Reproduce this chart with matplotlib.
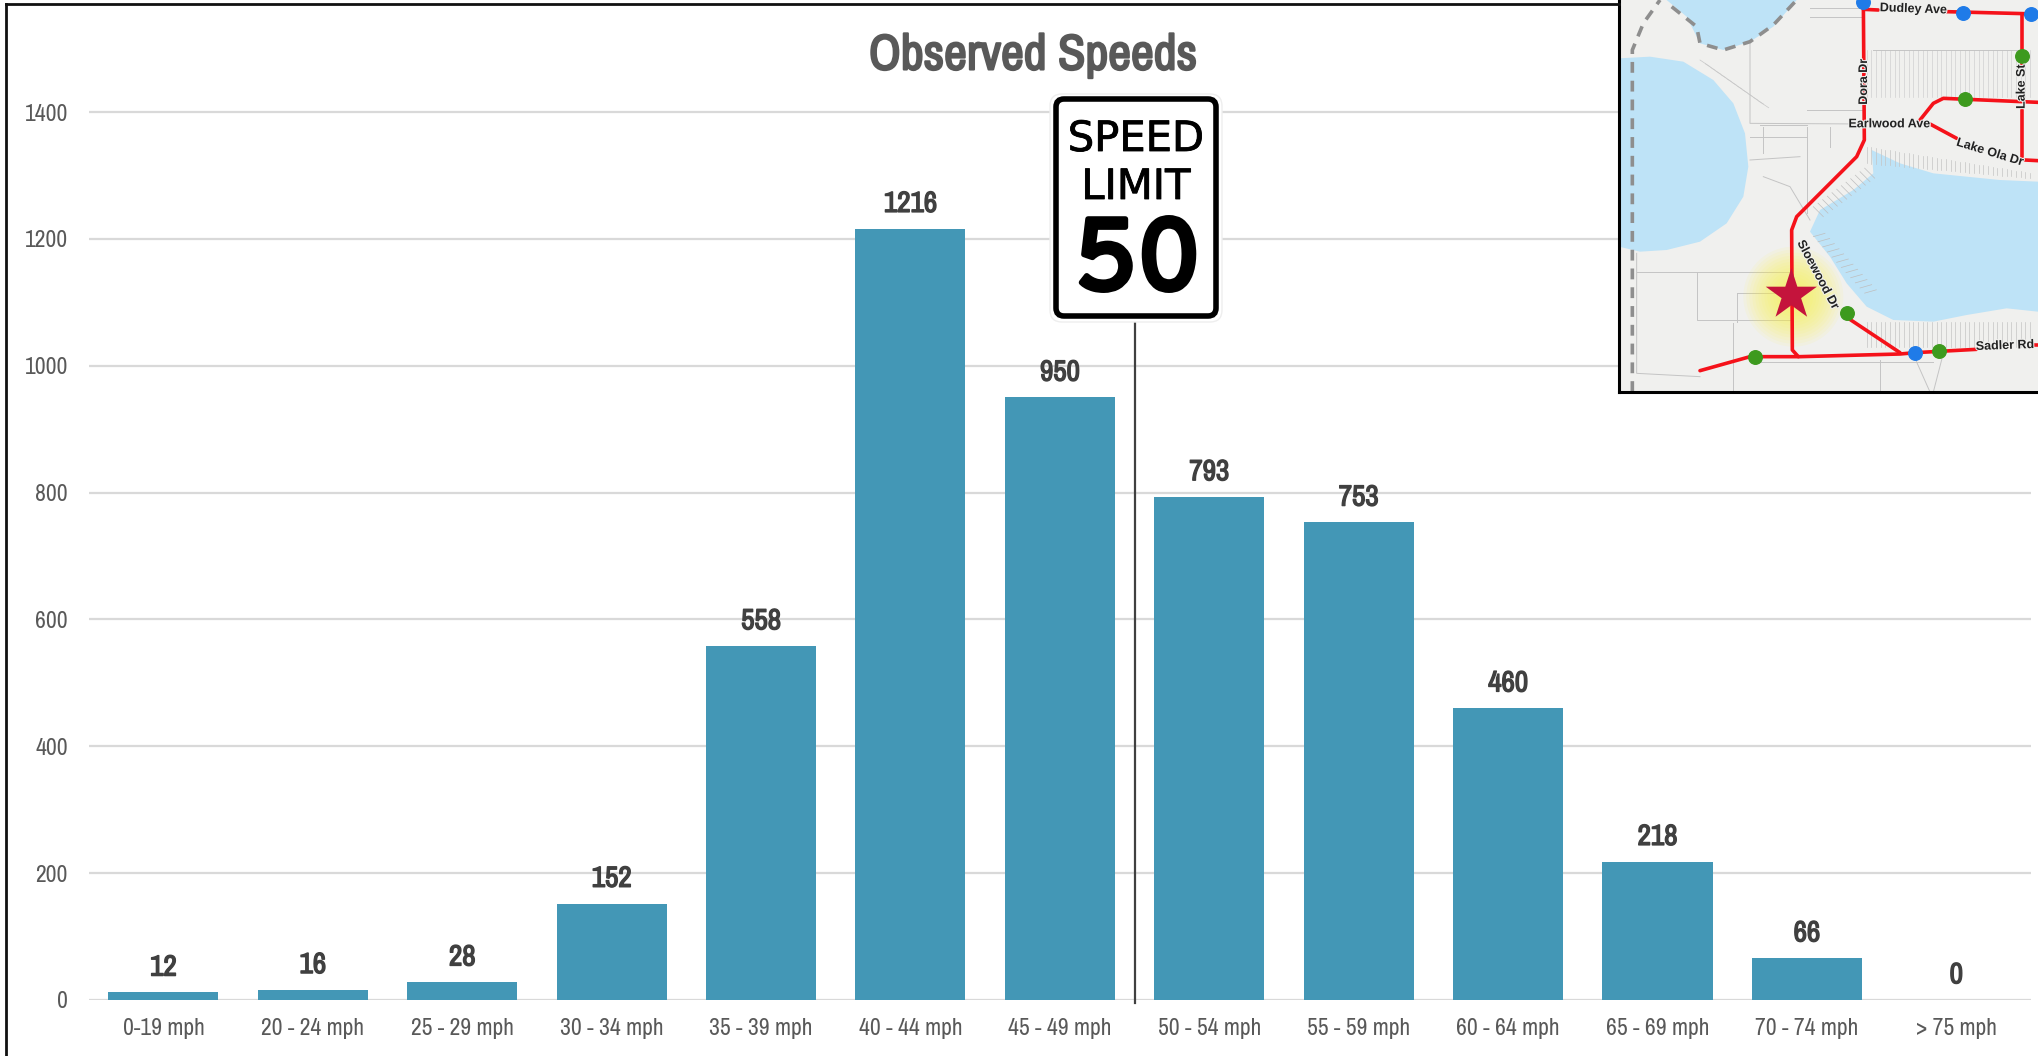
import matplotlib
matplotlib.use('Agg')
import matplotlib.pyplot as plt
from matplotlib.lines import Line2D
from matplotlib.patches import Circle, FancyBboxPatch, Polygon
import matplotlib.patheffects as pe
import numpy as np

# Datos del grafico
categories = ['0-19 mph', '20 - 24 mph', '25 - 29 mph', '30 - 34 mph', '35 - 39 mph',
              '40 - 44 mph', '45 - 49 mph', '50 - 54 mph', '55 - 59 mph', '60 - 64 mph',
              '65 - 69 mph', '70 - 74 mph', '> 75 mph']
counts = [12, 16, 28, 152, 558, 1216, 950, 793, 753, 460, 218, 66, 0]
y_ticks = [0, 200, 400, 600, 800, 1000, 1200, 1400]

# Mapa de ubicacion
west_lake = [(57, 175), (150, 170), (250, 185), (340, 240), (400, 310), (435, 400), (445, 500),
             (430, 590), (380, 670), (300, 725), (200, 750), (120, 755), (57, 740)]
north_lake = [(200, 0), (260, 50), (300, 130), (370, 150), (450, 125), (520, 80), (590, 0)]
east_lake = [(815, 450), (900, 490), (1000, 520), (1200, 540), (1314, 545), (1314, 935), (1220, 925),
             (1100, 945), (1000, 965), (880, 960), (800, 920), (740, 850), (690, 770), (630, 695),
             (660, 630), (760, 570), (820, 520)]
boundaries = [[(97, 1176), (97, 150), (130, 70), (180, 0)],
              [(215, 20), (290, 80), (300, 130), (370, 150), (450, 125), (520, 75), (590, 0)]]
roads = [[(790, 0), (793, 420), (770, 470), (590, 650), (575, 690), (577, 1050), (595, 1070)],
         [(300, 1112), (450, 1070), (600, 1070), (900, 1062), (945, 1058), (1130, 1048)],
         [(1300, 1035), (1314, 1035)],
         [(745, 955), (900, 1058)],
         [(790, 28), (835, 30)],
         [(1040, 35), (1314, 42)],
         [(1265, 42), (1265, 200)],
         [(1265, 330), (1265, 470)],
         [(960, 360), (1000, 310), (1030, 295), (1314, 307)],
         [(990, 372), (1070, 415)],
         [(1275, 480), (1314, 482)]]
parcels = [[(450, 130), (450, 370), (790, 372)], [(490, 530), (570, 560), (630, 660)],
           [(290, 815), (575, 815)], [(290, 815), (290, 960), (575, 960)], [(410, 880), (410, 965)],
           [(410, 880), (575, 880)], [(110, 760), (110, 1120), (300, 1130)], [(480, 1085), (1000, 1085)],
           [(945, 1075), (990, 1176)], [(1030, 1060), (1000, 1176)], [(630, 25), (790, 25)],
           [(630, 50), (790, 50)], [(820, 150), (1260, 150)], [(480, 375), (620, 375)],
           [(450, 480), (600, 470)], [(450, 410), (620, 410)], [(110, 815), (290, 815)],
           [(400, 970), (400, 1176)], [(840, 1080), (840, 1176)], [(620, 330), (790, 330)],
           [(490, 380), (490, 460)], [(620, 380), (620, 640)], [(690, 380), (690, 440)]]
blue_dots = [(790, 5), (1088, 38), (1292, 42), (945, 1058)]
green_dots = [(1265, 168), (1094, 298), (740, 940), (1016, 1052), (465, 1070)]
road_names = [('Dudley Ave', 940, 28, -2), ('Dora Dr', 792, 245, 90), ('Lake St', 1265, 260, 90),
              ('Earlwood Ave', 868, 373, 0), ('Lake Ola Dr', 1170, 458, -17),
              ('Sloewood Dr', 653, 825, -62), ('Sadler Rd', 1215, 1038, 2)]

W, H = 2038, 1056
BAR_COLOR = '#4397B6'
TEXT_GRAY = '#595959'
NARROW = ['Archivo Narrow', 'Liberation Sans']
SIGN_FONT = ['Overpass', 'DejaVu Sans']


def px_axes(fig, left, top, right, bottom, **kw):
    # Crea un eje a partir de coordenadas en pixeles
    return fig.add_axes([left / W, 1 - bottom / H, (right - left) / W, (bottom - top) / H], **kw)


def heavy(color, width):
    # Engrosa el texto con un trazo del mismo color
    return [pe.withStroke(linewidth=width, foreground=color)]


fig = plt.figure(figsize=(W / 100, H / 100), dpi=100, facecolor='white')

# Grafico de barras
ax = px_axes(fig, 88.7, 112 - 888 * 100 / 1400, 2031, 1000)
x = np.arange(len(categories))
ax.bar(x, counts, width=0.737, color=BAR_COLOR, zorder=3)
ax.set_xlim(-0.5, len(categories) - 0.5)
ax.set_ylim(0, 1500)
ax.set_yticks(y_ticks)
ax.set_xticks(x)
ax.set_xticklabels(categories, family=NARROW, fontsize=17, color=TEXT_GRAY)
ax.set_yticklabels([str(v) for v in y_ticks], family=NARROW, fontsize=17, color=TEXT_GRAY)
ax.tick_params(axis='both', length=0)
ax.tick_params(axis='x', pad=13)
ax.tick_params(axis='y', pad=15)
ax.grid(axis='y', color='#D9D9D9', linewidth=1.6, zorder=0)
ax.set_axisbelow(True)
for side in ['top', 'right', 'left', 'bottom']:
    ax.spines[side].set_visible(False)

for i, v in enumerate(counts):
    ax.annotate(str(v), (i, v), xytext=(0, 8.5), textcoords='offset points', ha='center', va='bottom',
                family=NARROW, fontsize=21, color='#404040', zorder=5,
                path_effects=heavy('#404040', 1.0))

# Poste de la senal
ax.plot([6.5, 6.5], [-5, 1069], color='#404040', linewidth=1.6, zorder=4, clip_on=False)

fig.text(1033 / W, 1 - 56 / H, 'Observed Speeds', family=NARROW, fontsize=36, color=TEXT_GRAY,
         ha='center', va='center', path_effects=heavy(TEXT_GRAY, 1.5))

# Senal de velocidad maxima, en pixeles de la figura
sign = px_axes(fig, 0, 0, W, H)
sign.set_xlim(0, W)
sign.set_ylim(H, 0)
sign.axis('off')
sign.patch.set_alpha(0)
sign.add_patch(FancyBboxPatch((1056, 100), 160, 216, boxstyle='round,pad=6,rounding_size=12',
                              facecolor='white', edgecolor='#EEEEEE', linewidth=1))
sign.add_patch(FancyBboxPatch((1058, 101), 156, 213, boxstyle='round,pad=2,rounding_size=8',
                              facecolor='white', edgecolor='black', linewidth=4))
sign.text(1136, 151, 'SPEED', family='DejaVu Sans', fontsize=30, color='black', ha='center', va='baseline',
          path_effects=heavy('black', 0.6))
sign.text(1136, 199, 'LIMIT', family='DejaVu Sans', fontsize=30, color='black', ha='center', va='baseline',
          path_effects=heavy('black', 0.6))
sign.text(1138, 289, '50', family=SIGN_FONT, fontsize=72, color='black', ha='center', va='baseline',
          path_effects=heavy('black', 4))

# Mapa
m = px_axes(fig, 1619, 0, W, 392)
m.set_xlim(57, 1314)
m.set_ylim(1176, 0)
m.set_facecolor('#F0F0EE')
m.set_xticks([])
m.set_yticks([])
for side in ['top', 'right']:
    m.spines[side].set_visible(False)
for side in ['left', 'bottom']:
    m.spines[side].set_linewidth(2.2)
    m.spines[side].set_color('black')
    m.spines[side].set_zorder(20)

for lake in [west_lake, north_lake, east_lake]:
    m.add_patch(Polygon(lake, closed=True, facecolor='#BEE3F7', edgecolor='none', zorder=1))

# Parcelas junto a la costa
for px in np.arange(300, 480, 16):
    m.plot([px, px + 30], [180 + (px - 300) * 0.7, 200 + (px - 300) * 0.7], color='#C8C8C8', lw=0.5, zorder=2)
for px in np.arange(800, 1300, 14):
    m.plot([px, px], [440 + (px - 800) * 0.16, 490 + (px - 800) * 0.09], color='#C4C4C4', lw=0.5, zorder=2)
    m.plot([px, px], [965, 1040], color='#C4C4C4', lw=0.5, zorder=2)
    m.plot([px, px], [150, 290], color='#D0D0D0', lw=0.5, zorder=2)
for px in np.arange(640, 800, 14):
    m.plot([px, px + 35], [710 + (px - 640) * 1.1, 700 + (px - 640) * 1.1], color='#BEBEBE', lw=0.5, zorder=2)
    m.plot([px, px + 30], [620 - (px - 640) * 0.75, 650 - (px - 640) * 0.75], color='#BEBEBE', lw=0.5, zorder=2)
for path in parcels:
    xs, ys = zip(*path)
    m.plot(xs, ys, color='#C4C4C4', lw=0.7, zorder=2)

# Resplandor alrededor de la estrella
for r in np.linspace(150, 15, 16):
    m.add_patch(Circle((580, 890), r, facecolor='#FFF04A', edgecolor='none', alpha=0.08, zorder=3))

for path in boundaries:
    xs, ys = zip(*path)
    m.plot(xs, ys, color='#8E8E8E', lw=2.6, linestyle=(0, (3, 2.2)), zorder=4)
for path in roads:
    xs, ys = zip(*path)
    m.plot(xs, ys, color='#F5121A', lw=2.6, solid_capstyle='round', solid_joinstyle='round', zorder=5)

m.scatter(*zip(*blue_dots), s=95, color='#1F7BE8', zorder=6)
m.scatter(*zip(*green_dots), s=95, color='#3D9A1E', zorder=6)
for name, tx, ty, rot in road_names:
    m.text(tx, ty, name, fontsize=9, fontweight='bold', color='#222222', family='Liberation Sans',
           ha='center', va='center', rotation=rot, rotation_mode='anchor', zorder=7,
           path_effects=[pe.withStroke(linewidth=1.5, foreground='#F0F0EE')])
m.scatter([574], [885], marker='*', s=1500, color='#C4143C', edgecolor='none', zorder=8)

# Marco exterior
fig.add_artist(Line2D([6 / W, 6 / W], [0, 1 - 4 / H], color='#111111', linewidth=2))
fig.add_artist(Line2D([6 / W, 1619 / W], [1 - 4 / H, 1 - 4 / H], color='#111111', linewidth=2))

fig.savefig('out.png', dpi=100)
